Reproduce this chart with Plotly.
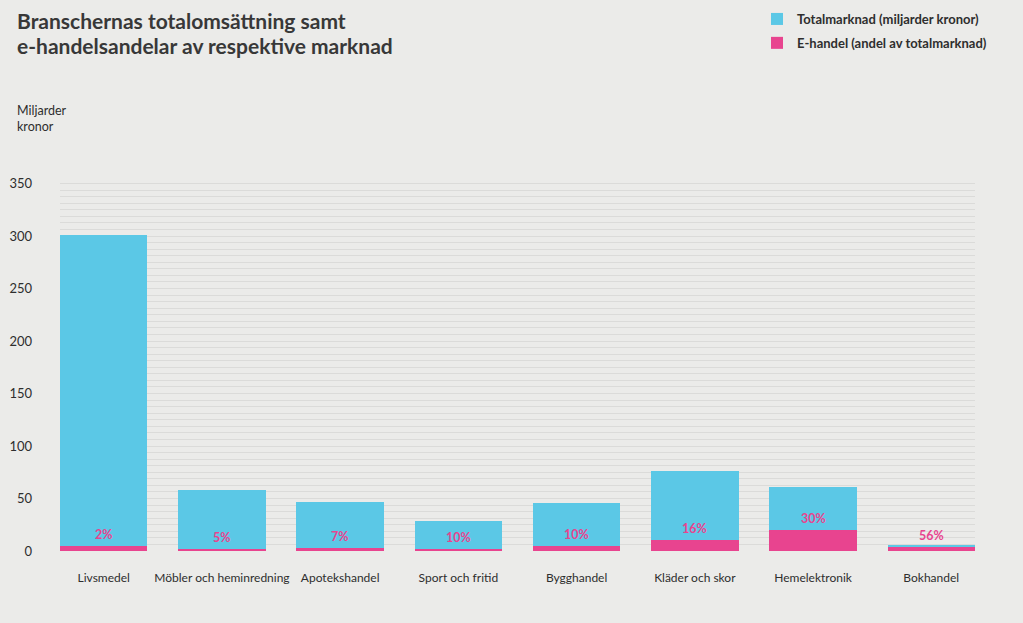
import plotly.graph_objects as go

categories = ["Livsmedel", "Möbler och heminredning", "Apotekshandel", "Sport och fritid",
              "Bygghandel", "Kläder och skor", "Hemelektronik", "Bokhandel"]
total_market = [301, 58, 47, 29, 46, 76, 61, 6]          # miljarder kronor (total bar height)
ehandel_value = [4.5, 2.0, 3.3, 2.0, 4.5, 10.8, 19.7, 3.8]  # e-handel part (pink)
ehandel_share = ["2%", "5%", "7%", "10%", "10%", "16%", "30%", "56%"]
title_lines = ["Branschernas totalomsättning samt", "e-handelsandelar av respektive marknad"]
rest_value = [t - e for t, e in zip(total_market, ehandel_value)]

BG = "#ebebe9"
CYAN = "#5bc8e6"
PINK = "#e8448f"
TXT = "#2e2e2e"
GRID = "#dbdbd9"
FONT = "Lato"

MT, MB, H = 181, 72, 623
PLOT_H = H - MT - MB

fig = go.Figure()
fig.add_trace(go.Bar(x=categories, y=ehandel_value, name="E-handel (andel av totalmarknad)",
                     marker=dict(color=PINK, line=dict(width=0)), legendrank=2,
                     legendgroup="e", hoverinfo="skip"))
fig.add_trace(go.Bar(x=categories, y=rest_value, name="Totalmarknad (miljarder kronor)",
                     marker=dict(color=CYAN, line=dict(width=0)), legendrank=1,
                     legendgroup="t", hoverinfo="skip"))

annotations = []
for c, v, s in zip(categories, ehandel_value, ehandel_share):
    annotations.append(dict(x=c, y=v, xref="x", yref="y", text=f"<b>{s}</b>", showarrow=False,
                            yanchor="bottom", yshift=2,
                            font=dict(family=FONT, size=12.5, color=PINK)))

# title lines: centers at ~20px and ~45px from top
for i, line in enumerate(title_lines):
    center_px = 20 + 25 * i
    annotations.append(dict(text=f"<b>{line}</b>", xref="paper", yref="paper",
                            x=-0.0492, y=(H - MB - center_px) / PLOT_H,
                            xanchor="left", yanchor="middle", align="left", showarrow=False,
                            font=dict(family=FONT, size=21, color="#383838")))
annotations.append(dict(text="Miljarder<br>kronor", xref="paper", yref="paper", x=-0.0492, y=1.122,
                        xanchor="left", yanchor="bottom", align="left", showarrow=False,
                        font=dict(family=FONT, size=12.5, color=TXT)))

fig.update_layout(
    barmode="stack",
    bargap=0.26,
    width=1023, height=H,
    paper_bgcolor=BG, plot_bgcolor=BG,
    margin=dict(l=60, r=48, t=MT, b=MB, autoexpand=False),
    font=dict(family=FONT, size=13, color=TXT),
    legend=dict(x=757 / 1023, xref="container", xanchor="left",
                y=1 - 4 / 623, yref="container", yanchor="top",
                traceorder="grouped", tracegroupgap=4, bgcolor="rgba(0,0,0,0)",
                font=dict(family=FONT, size=13, color=TXT, weight="bold")),
    annotations=annotations,
    xaxis=dict(range=[-0.37, 7.37], showgrid=False, showline=False, ticks="",
               ticklabelstandoff=18, tickfont=dict(family=FONT, size=12, color=TXT), fixedrange=True),
    yaxis=dict(range=[0, 352.4], tickvals=[0, 50, 100, 150, 200, 250, 300, 350],
               showgrid=True, gridcolor=GRID, gridwidth=1.3,
               minor=dict(dtick=6.25, tick0=0, showgrid=True, gridcolor=GRID, gridwidth=1.3),
               zeroline=False, showline=False, ticks="",
               ticklabelstandoff=27, tickfont=dict(family=FONT, size=13, color=TXT), fixedrange=True),
)

fig.write_html("out.html", config={"displayModeBar": False},
               post_script="document.body.style.margin='0';document.body.style.overflow='hidden';")
